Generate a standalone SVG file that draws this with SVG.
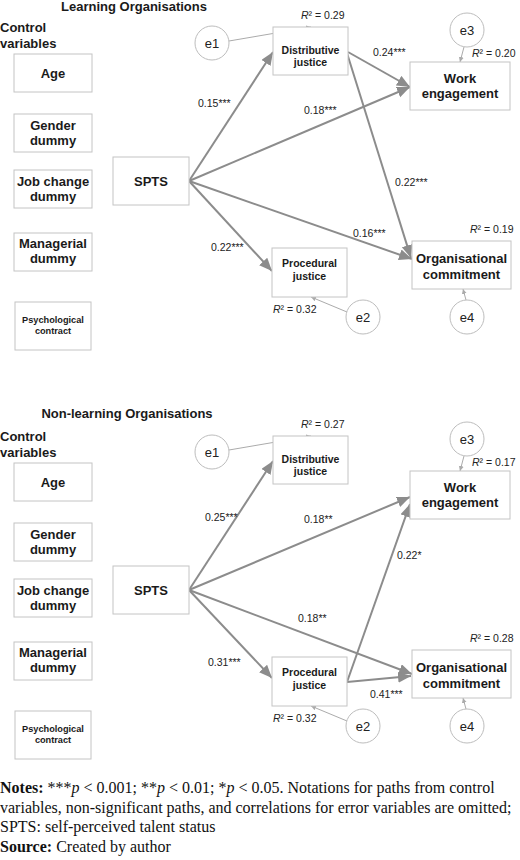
<svg xmlns="http://www.w3.org/2000/svg" width="520" height="860" viewBox="0 0 520 860">
<style>
.bg{fill:#fff}
.box{fill:#fff;stroke:#c4c4c4;stroke-width:1}
.err{fill:#fff;stroke:#bdbdbd;stroke-width:1}
.lb{font-family:"Liberation Sans",Arial,sans-serif;font-weight:bold;fill:#1a1a1a;text-anchor:middle}
.l13{font-size:13px}
.l10{font-size:10.5px}
.l9{font-size:9.2px}
.ttl{font-family:"Liberation Sans",Arial,sans-serif;font-weight:bold;font-size:13px;fill:#1a1a1a}
.num{font-family:"Liberation Sans",Arial,sans-serif;font-size:10.5px;fill:#222}
.et{font-family:"Liberation Sans",Arial,sans-serif;font-size:13px;fill:#222;text-anchor:middle}
.path{stroke:#8c8c8c;stroke-width:2;fill:none;marker-end:url(#big)}
.ep{stroke:#ababab;stroke-width:1;fill:none;marker-end:url(#small)}
.note{font-family:"Liberation Serif","Times New Roman",serif;font-size:16px;fill:#111}
</style>
<defs>
<marker id="big" markerUnits="userSpaceOnUse" markerWidth="14" markerHeight="12" refX="13" refY="5.5" orient="auto"><path d="M0,0 L13,5.5 L0,11 z" fill="#8c8c8c"/></marker>
<marker id="small" markerUnits="userSpaceOnUse" markerWidth="6" markerHeight="6" refX="5" refY="2.5" orient="auto"><path d="M0,0 L5,2.5 L0,5 z" fill="#ababab"/></marker>
</defs>
<rect class="bg" x="0" y="0" width="520" height="860"/>

<!-- ===== Learning Organisations ===== -->
<text class="ttl" x="134" y="10.5" text-anchor="middle">Learning Organisations</text>
<text class="ttl" x="0" y="32">Control</text>
<text class="ttl" x="0" y="48">variables</text>

<g id="connectors-top">
<line class="path" x1="189" y1="181" x2="273" y2="52"/>
<line class="path" x1="189" y1="181" x2="410" y2="87"/>
<line class="path" x1="189" y1="181" x2="412" y2="259"/>
<line class="path" x1="189" y1="181" x2="272" y2="271"/>
<line class="path" x1="348" y1="52" x2="410" y2="87"/>
<line class="path" x1="347" y1="53" x2="411" y2="258"/>
<line class="ep" x1="229" y1="41" x2="311" y2="27"/>
<line class="ep" x1="464" y1="47" x2="460" y2="62"/>
<line class="ep" x1="347" y1="312" x2="311" y2="297"/>
<line class="ep" x1="466" y1="300" x2="463" y2="289"/>
<text class="num" x="198" y="107">0.15***</text>
<text class="num" x="304" y="114">0.18***</text>
<text class="num" x="373" y="56">0.24***</text>
<text class="num" x="395" y="186">0.22***</text>
<text class="num" x="353" y="237">0.16***</text>
<text class="num" x="211" y="251">0.22***</text>
</g>

<g id="t-age"><rect class="box" x="14" y="54" width="78" height="38"/><text class="lb l13" x="53" y="78">Age</text></g>
<g id="t-gender"><rect class="box" x="14" y="114" width="78" height="38"/><text class="lb l13" x="53" y="130">Gender</text><text class="lb l13" x="53" y="145">dummy</text></g>
<g id="t-jobchange"><rect class="box" x="14" y="170" width="78" height="38"/><text class="lb l13" x="53" y="186">Job change</text><text class="lb l13" x="53" y="201">dummy</text></g>
<g id="t-managerial"><rect class="box" x="14" y="233" width="78" height="38"/><text class="lb l13" x="53" y="248">Managerial</text><text class="lb l13" x="53" y="263">dummy</text></g>
<g id="t-psych"><rect class="box" x="15" y="302" width="76" height="48"/><text class="lb l9" x="53" y="323">Psychological</text><text class="lb l9" x="53" y="334">contract</text></g>
<g id="t-spts"><rect class="box" x="113" y="157" width="76" height="48"/><text class="lb l13" x="151" y="186">SPTS</text></g>
<g id="t-dist"><rect class="box" x="273" y="27" width="75" height="48"/><text class="lb l10" x="310.5" y="54">Distributive</text><text class="lb l10" x="310.5" y="66">justice</text><text class="num" x="301" y="19"><tspan font-style="italic">R</tspan>² = 0.29</text></g>
<g id="t-proc"><rect class="box" x="272" y="248" width="75" height="49"/><text class="lb l10" x="309.5" y="267">Procedural</text><text class="lb l10" x="309.5" y="280">justice</text><text class="num" x="273" y="313"><tspan font-style="italic">R</tspan>² = 0.32</text></g>
<g id="t-we"><rect class="box" x="410" y="62" width="100" height="48"/><text class="lb l13" x="460" y="83">Work</text><text class="lb l13" x="460" y="98">engagement</text><text class="num" x="472" y="57"><tspan font-style="italic">R</tspan>² = 0.20</text></g>
<g id="t-oc"><rect class="box" x="412" y="241" width="99" height="48"/><text class="lb l13" x="461.5" y="263">Organisational</text><text class="lb l13" x="461.5" y="279">commitment</text><text class="num" x="470" y="233"><tspan font-style="italic">R</tspan>² = 0.19</text></g>
<g id="t-e1"><circle class="err" cx="212" cy="43" r="17"/><text class="et" x="212" y="48">e1</text></g>
<g id="t-e2"><circle class="err" cx="363" cy="317" r="17"/><text class="et" x="363" y="322">e2</text></g>
<g id="t-e3"><circle class="err" cx="467" cy="30" r="17"/><text class="et" x="467" y="35">e3</text></g>
<g id="t-e4"><circle class="err" cx="467" cy="317" r="17"/><text class="et" x="467" y="322">e4</text></g>

<!-- ===== Non-learning Organisations ===== -->
<text class="ttl" x="127" y="418" text-anchor="middle">Non-learning Organisations</text>
<text class="ttl" x="0" y="441">Control</text>
<text class="ttl" x="0" y="457">variables</text>

<g id="connectors-bottom">
<line class="path" x1="189" y1="590" x2="273" y2="461"/>
<line class="path" x1="189" y1="590" x2="410" y2="497"/>
<line class="path" x1="189" y1="590" x2="412" y2="674"/>
<line class="path" x1="189" y1="590" x2="272" y2="678"/>
<line class="path" x1="347" y1="682" x2="410" y2="504"/>
<line class="path" x1="347" y1="682" x2="411" y2="676"/>
<line class="ep" x1="229" y1="450" x2="311" y2="436"/>
<line class="ep" x1="464" y1="456" x2="460" y2="471"/>
<line class="ep" x1="347" y1="721" x2="311" y2="706"/>
<line class="ep" x1="466" y1="709" x2="463" y2="698"/>
<text class="num" x="205" y="521">0.25***</text>
<text class="num" x="304" y="523">0.18**</text>
<text class="num" x="397" y="559">0.22*</text>
<text class="num" x="298" y="622">0.18**</text>
<text class="num" x="208" y="666">0.31***</text>
<text class="num" x="370" y="698">0.41***</text>
</g>

<g id="b-age"><rect class="box" x="14" y="463" width="78" height="38"/><text class="lb l13" x="53" y="487">Age</text></g>
<g id="b-gender"><rect class="box" x="14" y="523" width="78" height="38"/><text class="lb l13" x="53" y="539">Gender</text><text class="lb l13" x="53" y="554">dummy</text></g>
<g id="b-jobchange"><rect class="box" x="14" y="579" width="78" height="38"/><text class="lb l13" x="53" y="595">Job change</text><text class="lb l13" x="53" y="610">dummy</text></g>
<g id="b-managerial"><rect class="box" x="14" y="642" width="78" height="38"/><text class="lb l13" x="53" y="657">Managerial</text><text class="lb l13" x="53" y="672">dummy</text></g>
<g id="b-psych"><rect class="box" x="15" y="711" width="76" height="48"/><text class="lb l9" x="53" y="732">Psychological</text><text class="lb l9" x="53" y="743">contract</text></g>
<g id="b-spts"><rect class="box" x="113" y="566" width="76" height="48"/><text class="lb l13" x="151" y="595">SPTS</text></g>
<g id="b-dist"><rect class="box" x="273" y="436" width="75" height="48"/><text class="lb l10" x="310.5" y="463">Distributive</text><text class="lb l10" x="310.5" y="475">justice</text><text class="num" x="301" y="428"><tspan font-style="italic">R</tspan>² = 0.27</text></g>
<g id="b-proc"><rect class="box" x="272" y="657" width="75" height="49"/><text class="lb l10" x="309.5" y="676">Procedural</text><text class="lb l10" x="309.5" y="689">justice</text><text class="num" x="273" y="722"><tspan font-style="italic">R</tspan>² = 0.32</text></g>
<g id="b-we"><rect class="box" x="410" y="471" width="100" height="48"/><text class="lb l13" x="460" y="492">Work</text><text class="lb l13" x="460" y="507">engagement</text><text class="num" x="472" y="466"><tspan font-style="italic">R</tspan>² = 0.17</text></g>
<g id="b-oc"><rect class="box" x="412" y="650" width="99" height="48"/><text class="lb l13" x="461.5" y="672">Organisational</text><text class="lb l13" x="461.5" y="688">commitment</text><text class="num" x="470" y="642"><tspan font-style="italic">R</tspan>² = 0.28</text></g>
<g id="b-e1"><circle class="err" cx="212" cy="452" r="17"/><text class="et" x="212" y="457">e1</text></g>
<g id="b-e2"><circle class="err" cx="363" cy="726" r="17"/><text class="et" x="363" y="731">e2</text></g>
<g id="b-e3"><circle class="err" cx="467" cy="439" r="17"/><text class="et" x="467" y="444">e3</text></g>
<g id="b-e4"><circle class="err" cx="467" cy="726" r="17"/><text class="et" x="467" y="731">e4</text></g>

<g id="notes">
<text class="note" x="0" y="793"><tspan font-weight="bold">Notes:</tspan> ***<tspan font-style="italic">p</tspan> &lt; 0.001; **<tspan font-style="italic">p</tspan> &lt; 0.01; *<tspan font-style="italic">p</tspan> &lt; 0.05. Notations for paths from control</text>
<text class="note" x="0" y="812.5">variables, non-significant paths, and correlations for error variables are omitted;</text>
<text class="note" x="0" y="832">SPTS: self-perceived talent status</text>
<text class="note" x="0" y="851.5"><tspan font-weight="bold">Source:</tspan> Created by author</text>
</g>
</svg>
